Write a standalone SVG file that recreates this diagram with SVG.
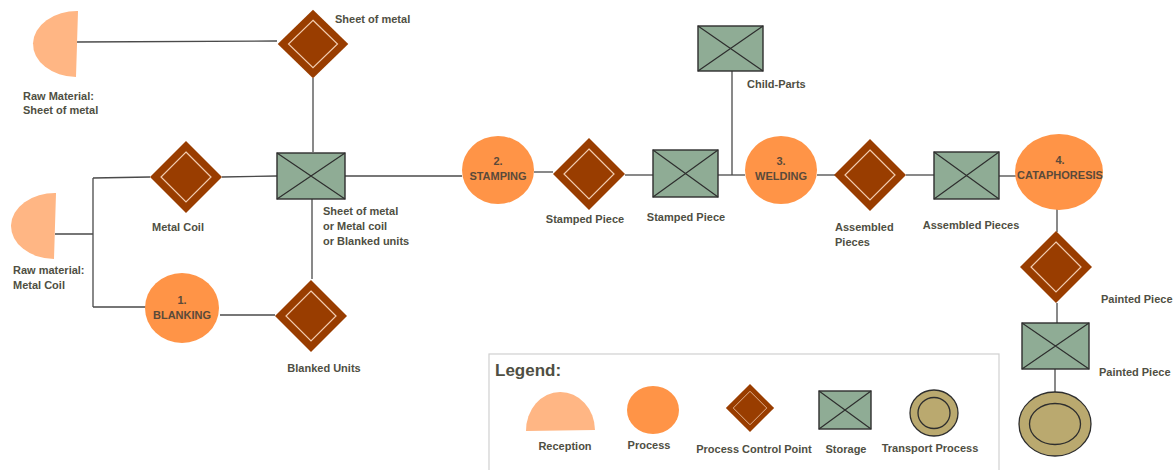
<svg xmlns="http://www.w3.org/2000/svg" width="1176" height="470" viewBox="0 0 1176 470">
  <defs>
    <style>
      .lbl { font-family: "Liberation Sans", Arial, sans-serif; font-weight: bold; font-size: 11px; fill: #4f4f43; }
      .ptxt { font-family: "Liberation Sans", Arial, sans-serif; font-weight: bold; font-size: 11px; fill: #5a4a3a; text-anchor: middle; }
      .conn { stroke: #4a4a4a; stroke-width: 1.3; fill: none; }
      .recv { fill: #ffb684; }
      .proc { fill: #ff9447; }
      .pcp { fill: #993d00; }
      .pcp-in { fill: none; stroke: #f2cdb0; stroke-width: 1.2; }
      .stor { fill: #8fac95; stroke: #2e2e2e; stroke-width: 1.4; }
      .stor-x { stroke: #2e2e2e; stroke-width: 1.2; }
      .trans { fill: #baa96f; stroke: #2e2e2e; stroke-width: 1.3; }
    </style>
    <!-- control point: outer diamond with inner outline, unit half-size 36 -->
    <g id="pcpShape">
      <polygon class="pcp" points="0,-36 36,0 0,36 -36,0"/>
      <polygon class="pcp-in" points="0,-25 25,0 0,25 -25,0"/>
    </g>
  </defs>
  <rect width="1176" height="470" fill="#ffffff"/>

  <!-- connectors -->
  <g id="connectors">
    <path class="conn" d="M77,42 L277,41"/>
    <path class="conn" d="M313,78 L313,152"/>
    <path class="conn" d="M55,234 L93,234 M93,178 L93,307 M93,178 L150,177 M93,307 L146,307"/>
    <path class="conn" d="M222,177 L277,176"/>
    <path class="conn" d="M220,315 L275,315"/>
    <path class="conn" d="M312,199 L312,279"/>
    <path class="conn" d="M345,176 L462,176"/>
    <path class="conn" d="M534,172 L553,172"/>
    <path class="conn" d="M625,175 L653,175"/>
    <path class="conn" d="M718,175 L745,175"/>
    <path class="conn" d="M732,71 L732,175"/>
    <path class="conn" d="M817,175 L835,175"/>
    <path class="conn" d="M906,175 L934,175"/>
    <path class="conn" d="M999,176 L1018,176"/>
    <path class="conn" d="M1057,209 L1057,232"/>
    <path class="conn" d="M1057,303 L1057,323"/>
    <path class="conn" d="M1055,369 L1055,392"/>
  </g>

  <!-- reception: sheet of metal -->
  <g id="raw-sheet">
    <path class="recv" d="M78,11 A44,33 0 0 0 76,77 Z"/>
    <text class="lbl" x="23" y="100">Raw Material:</text>
    <text class="lbl" x="23" y="114">Sheet of metal</text>
  </g>

  <!-- control point: sheet of metal -->
  <g id="pcp-sheet">
    <use href="#pcpShape" transform="translate(313,44) scale(0.98,0.95)"/>
    <text class="lbl" x="335" y="23">Sheet of metal</text>
  </g>

  <!-- reception: metal coil -->
  <g id="raw-coil">
    <path class="recv" d="M56,193 A44,33 0 0 0 54,259 Z"/>
    <text class="lbl" x="13" y="274">Raw material:</text>
    <text class="lbl" x="13" y="289">Metal Coil</text>
  </g>

  <!-- control point: metal coil -->
  <g id="pcp-coil">
    <use href="#pcpShape" transform="translate(186,177) scale(1,1)"/>
    <text class="lbl" x="178" y="231" text-anchor="middle">Metal Coil</text>
  </g>

  <!-- storage: sheet / coil / blanked -->
  <g id="store-input">
    <rect class="stor" x="277" y="153" width="68" height="46"/>
    <path class="stor-x" d="M277,153 L345,199 M345,153 L277,199"/>
    <text class="lbl" x="323" y="215">Sheet of metal</text>
    <text class="lbl" x="323" y="230">or Metal coil</text>
    <text class="lbl" x="323" y="245">or Blanked units</text>
  </g>

  <!-- process 1 -->
  <g id="proc-blanking">
    <ellipse class="proc" cx="182" cy="308" rx="37" ry="35"/>
    <text class="ptxt" x="182" y="304">1.</text>
    <text class="ptxt" x="182" y="319">BLANKING</text>
  </g>

  <!-- control point: blanked units -->
  <g id="pcp-blanked">
    <use href="#pcpShape" transform="translate(311,316)"/>
    <text class="lbl" x="324" y="372" text-anchor="middle">Blanked Units</text>
  </g>

  <!-- process 2 -->
  <g id="proc-stamping">
    <ellipse class="proc" cx="498" cy="170" rx="36" ry="34"/>
    <text class="ptxt" x="498" y="165">2.</text>
    <text class="ptxt" x="498" y="180">STAMPING</text>
  </g>

  <!-- control point: stamped piece -->
  <g id="pcp-stamped">
    <use href="#pcpShape" transform="translate(589,174)"/>
    <text class="lbl" x="585" y="223" text-anchor="middle">Stamped Piece</text>
  </g>

  <!-- storage: stamped piece -->
  <g id="store-stamped">
    <rect class="stor" x="653" y="150" width="65" height="47"/>
    <path class="stor-x" d="M653,150 L718,197 M718,150 L653,197"/>
    <text class="lbl" x="686" y="221" text-anchor="middle">Stamped Piece</text>
  </g>

  <!-- storage: child parts -->
  <g id="store-child">
    <rect class="stor" x="698" y="26" width="65" height="45"/>
    <path class="stor-x" d="M698,26 L763,71 M763,26 L698,71"/>
    <text class="lbl" x="747" y="88">Child-Parts</text>
  </g>

  <!-- process 3 -->
  <g id="proc-welding">
    <ellipse class="proc" cx="781" cy="170" rx="36" ry="34"/>
    <text class="ptxt" x="781" y="165">3.</text>
    <text class="ptxt" x="781" y="180">WELDING</text>
  </g>

  <!-- control point: assembled pieces -->
  <g id="pcp-assembled">
    <use href="#pcpShape" transform="translate(870,175)"/>
    <text class="lbl" x="835" y="231">Assembled</text>
    <text class="lbl" x="835" y="246">Pieces</text>
  </g>

  <!-- storage: assembled pieces -->
  <g id="store-assembled">
    <rect class="stor" x="934" y="152" width="65" height="47"/>
    <path class="stor-x" d="M934,152 L999,199 M999,152 L934,199"/>
    <text class="lbl" x="971" y="229" text-anchor="middle">Assembled Pieces</text>
  </g>

  <!-- process 4 -->
  <g id="proc-cataphoresis">
    <ellipse class="proc" cx="1059" cy="172" rx="44" ry="38"/>
    <text class="ptxt" x="1060" y="164">4.</text>
    <text class="ptxt" x="1060" y="179">CATAPHORESIS</text>
  </g>

  <!-- control point: painted piece -->
  <g id="pcp-painted">
    <use href="#pcpShape" transform="translate(1056,267)"/>
    <text class="lbl" x="1101" y="303">Painted Piece</text>
  </g>

  <!-- storage: painted piece -->
  <g id="store-painted">
    <rect class="stor" x="1022" y="323" width="67" height="46"/>
    <path class="stor-x" d="M1022,323 L1089,369 M1089,323 L1022,369"/>
    <text class="lbl" x="1099" y="376">Painted Piece</text>
  </g>

  <!-- transport -->
  <g id="transport">
    <ellipse class="trans" cx="1055" cy="424" rx="36" ry="32"/>
    <ellipse class="trans" cx="1055" cy="424" rx="25.5" ry="20.5"/>
  </g>

  <!-- legend -->
  <g id="legend">
    <rect x="489" y="354" width="510" height="130" fill="#ffffff" stroke="#d0d0d0" stroke-width="1.2"/>
    <text x="495" y="376" font-family="Liberation Sans, Arial, sans-serif" font-weight="bold" font-size="17" fill="#4f4f43">Legend:</text>
    <path class="recv" d="M526,431 A34,38 0 0 1 595,430 Z"/>
    <text class="lbl" x="565" y="450" text-anchor="middle">Reception</text>
    <ellipse class="proc" cx="653" cy="410" rx="26" ry="24"/>
    <text class="lbl" x="649" y="449" text-anchor="middle">Process</text>
    <use href="#pcpShape" transform="translate(750,408) scale(0.67)"/>
    <text class="lbl" x="754" y="453" text-anchor="middle">Process Control Point</text>
    <rect class="stor" x="819" y="391" width="52" height="38"/>
    <path class="stor-x" d="M819,391 L871,429 M871,391 L819,429"/>
    <text class="lbl" x="846" y="453" text-anchor="middle">Storage</text>
    <ellipse class="trans" cx="934" cy="413" rx="24" ry="23"/>
    <ellipse class="trans" cx="934" cy="413" rx="16" ry="15.5"/>
    <text class="lbl" x="930" y="452" text-anchor="middle">Transport Process</text>
  </g>
</svg>
